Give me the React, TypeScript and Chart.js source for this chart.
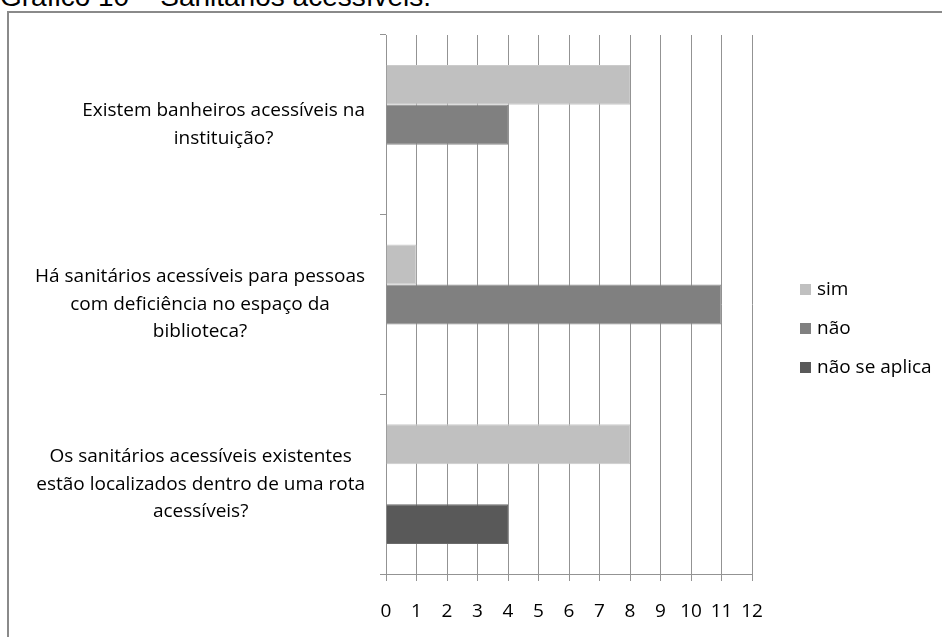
import React, { useEffect, useRef } from "react";
import { Chart, registerables } from "chart.js";

Chart.register(...registerables);

const titleText = "Gráfico 10 – Sanitários acessíveis.";
const categories: string[][] = [
  ["Existem banheiros acessíveis na", "instituição?"],
  ["Há sanitários acessíveis para pessoas", "com deficiência no espaço da", "biblioteca?"],
  ["Os sanitários acessíveis existentes", "estão localizados dentro de uma rota", "acessíveis?"],
];
const seriesNames = ["sim", "não", "não se aplica"];
const simValues = [8, 1, 8];
const naoValues = [4, 11, 0];
const naoSeAplicaValues = [0, 0, 4];
const seriesColors = ["#c0c0c0", "#808080", "#595959"];
const seriesBorders = ["#cbcbcb", "#8e8e8e", "#6a6a6a"];
const xMin = 0;
const xMax = 12;

const FONT = "'Open Sans', Lato, sans-serif";
const FONT_SIZE = 19;
const LINE_H = 27.5;
const GRID = "#939393";

// Category labels: each block right-aligned to the axis, lines centred within their own block
const yLabelPlugin = {
  id: "yBlockLabels",
  afterDraw(chart: any) {
    const ctx = chart.ctx;
    const scale = chart.scales.y;
    ctx.save();
    ctx.font = `${FONT_SIZE}px ${FONT}`;
    ctx.fillStyle = "#000";
    ctx.textAlign = "center";
    ctx.textBaseline = "middle";
    const rightEdge = scale.right - 21;
    (chart.data.labels as string[][]).forEach((lines, i) => {
      const yc = scale.getPixelForTick(i);
      const widest = Math.max(...lines.map((l) => ctx.measureText(l).width));
      const xc = rightEdge - widest / 2;
      const y0 = yc - ((lines.length - 1) * LINE_H) / 2;
      lines.forEach((l, j) => ctx.fillText(l, xc, y0 + j * LINE_H));
    });
    ctx.restore();
  },
};

const legendPlugin = {
  id: "customLegend",
  afterDraw(chart: any) {
    const ctx = chart.ctx;
    ctx.save();
    const x0 = 800;
    const y0 = 290;
    const gap = 39;
    chart.data.datasets.forEach((ds: any, i: number) => {
      const y = y0 + i * gap;
      ctx.fillStyle = ds.backgroundColor;
      ctx.fillRect(x0, y - 6, 11, 11);
      ctx.fillStyle = "#000";
      ctx.font = `${FONT_SIZE}px ${FONT}`;
      ctx.textBaseline = "middle";
      ctx.textAlign = "left";
      ctx.fillText(ds.label, x0 + 17, y);
    });
    ctx.restore();
  },
};

export default function App() {
  const canvasRef = useRef<HTMLCanvasElement | null>(null);

  useEffect(() => {
    document.body.style.margin = "0";
    const canvas = canvasRef.current;
    if (!canvas) return;
    const chart = new Chart(canvas, {
      type: "bar",
      data: {
        labels: categories,
        datasets: [
          { label: seriesNames[0], data: simValues, backgroundColor: seriesColors[0], borderColor: seriesBorders[0], borderWidth: 1 },
          { label: seriesNames[1], data: naoValues, backgroundColor: seriesColors[1], borderColor: seriesBorders[1], borderWidth: 1 },
          { label: seriesNames[2], data: naoSeAplicaValues, backgroundColor: seriesColors[2], borderColor: seriesBorders[2], borderWidth: 1 },
        ],
      },
      options: {
        indexAxis: "y",
        responsive: false,
        animation: false,
        datasets: { bar: { categoryPercentage: 0.667, barPercentage: 1 } },
        layout: { padding: { left: 0, top: 35, right: 190, bottom: 0 } },
        plugins: {
          legend: { display: false },
          tooltip: { enabled: false },
          title: { display: false },
        },
        scales: {
          x: {
            min: xMin,
            max: xMax,
            ticks: {
              stepSize: 1,
              color: "#000",
              font: { family: FONT, size: FONT_SIZE },
              padding: 19,
            },
            grid: {
              color: GRID,
              lineWidth: 1,
              tickLength: 7,
              drawTicks: true,
            },
            border: { color: GRID, width: 1 },
            afterFit(scale: any) {
              scale.height = 63;
              scale.paddingLeft = 0;
              scale.paddingRight = 0;
            },
          },
          y: {
            ticks: {
              display: false,
            },
            grid: {
              drawOnChartArea: false,
              color: GRID,
              tickLength: 6,
              offset: true,
            },
            border: { color: GRID, width: 1 },
            afterFit(scale: any) {
              scale.width = 386;
              scale.paddingTop = 0;
              scale.paddingBottom = 0;
            },
          },
        },
      } as any,
      plugins: [yLabelPlugin, legendPlugin],
    });
    return () => chart.destroy();
  }, []);

  return (
    <div style={{ position: "relative", width: 942, height: 637, overflow: "hidden", background: "#fff" }}>
      <div
        style={{
          position: "absolute",
          left: 0,
          top: -17.5,
          fontFamily: "'Liberation Sans', Arial, sans-serif",
          fontSize: 28,
          lineHeight: "28px",
          color: "#000",
          whiteSpace: "nowrap",
        }}
      >
        {titleText}
      </div>
      <div
        style={{
          position: "absolute",
          left: 7,
          top: 11,
          width: 960,
          height: 700,
          borderLeft: "2px solid #8a8a8a",
          borderTop: "2px solid #8a8a8a",
        }}
      />
      <canvas ref={canvasRef} width={942} height={637} style={{ position: "absolute", left: 0, top: 0 }} />
    </div>
  );
}
